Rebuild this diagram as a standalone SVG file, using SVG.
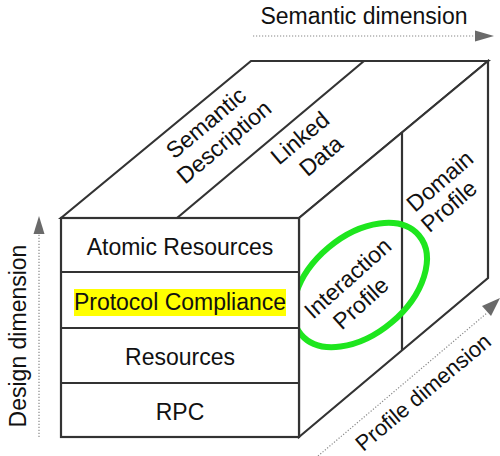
<svg xmlns="http://www.w3.org/2000/svg" width="500" height="456" viewBox="0 0 500 456">
<style>
.edge{fill:none;stroke:#333;stroke-width:2.2;stroke-linejoin:miter}
.face{fill:#fff;stroke:#333;stroke-width:2.2}
.t{font-family:"Liberation Sans",Arial,sans-serif;font-size:23px;fill:#111;text-anchor:middle}
.axis{fill:none;stroke:#888;stroke-width:1.2;stroke-dasharray:1.2 1.8}
.head{fill:#6a6a6a}
</style>
<rect width="500" height="456" fill="#fff"/>
<g id="connectors">
<line class="axis" x1="253" y1="36" x2="476" y2="36"/>
<polygon class="head" points="475,30.5 494,36 475,41.5"/>
<line class="axis" x1="39" y1="437" x2="39" y2="233"/>
<polygon class="head" points="33.5,234 39,216 44.5,234"/>
<line class="axis" x1="318" y1="456" x2="487" y2="313"/>
<polygon class="head" points="482,306 500,298 491,316"/>
</g>
<g id="top-face">
<polygon class="face" points="61,218 251,61 488,61 299,218"/>
<line class="edge" x1="177" y1="218" x2="364" y2="61"/>
<text class="t" transform="translate(211,129) rotate(-40)">Semantic</text>
<text class="t" transform="translate(229,148) rotate(-40)">Description</text>
<text class="t" transform="translate(305,144) rotate(-40)">Linked</text>
<text class="t" transform="translate(326,162) rotate(-40)">Data</text>
</g>
<g id="right-face">
<polygon class="face" points="299,218 488,61 488,278 299,437"/>
<line class="edge" x1="402" y1="132" x2="402" y2="350"/>
<text class="t" transform="translate(445,187) rotate(-41)">Domain</text>
<text class="t" transform="translate(454,212) rotate(-41)">Profile</text>
</g>
<g id="interaction-profile">
<text class="t" transform="translate(353,284) rotate(-42)">Interaction</text>
<text class="t" transform="translate(366,309) rotate(-42)">Profile</text>
<ellipse cx="360" cy="285" rx="77" ry="49" transform="rotate(-40 360 285)" fill="none" stroke="#1ee61e" stroke-width="6"/>
</g>
<g id="front-face">
<rect class="face" x="61" y="218" width="238" height="219"/>
<line class="edge" x1="61" y1="272" x2="299" y2="272"/>
<line class="edge" x1="61" y1="328" x2="299" y2="328"/>
<line class="edge" x1="61" y1="383" x2="299" y2="383"/>
</g>
<g id="atomic-resources"><text class="t" x="180" y="255">Atomic Resources</text></g>
<g id="protocol-compliance">
<rect x="74" y="289" width="212" height="27" fill="#ffff00"/>
<text class="t" x="180" y="310">Protocol Compliance</text>
</g>
<g id="resources"><text class="t" x="180" y="365">Resources</text></g>
<g id="rpc"><text class="t" x="180" y="420">RPC</text></g>
<g id="labels">
<text class="t" x="364" y="24">Semantic dimension</text>
<text class="t" transform="translate(26,336) rotate(-90)">Design dimension</text>
<text class="t" style="font-size:22px" transform="translate(428,398) rotate(-40)">Profile dimension</text>
</g>
</svg>
